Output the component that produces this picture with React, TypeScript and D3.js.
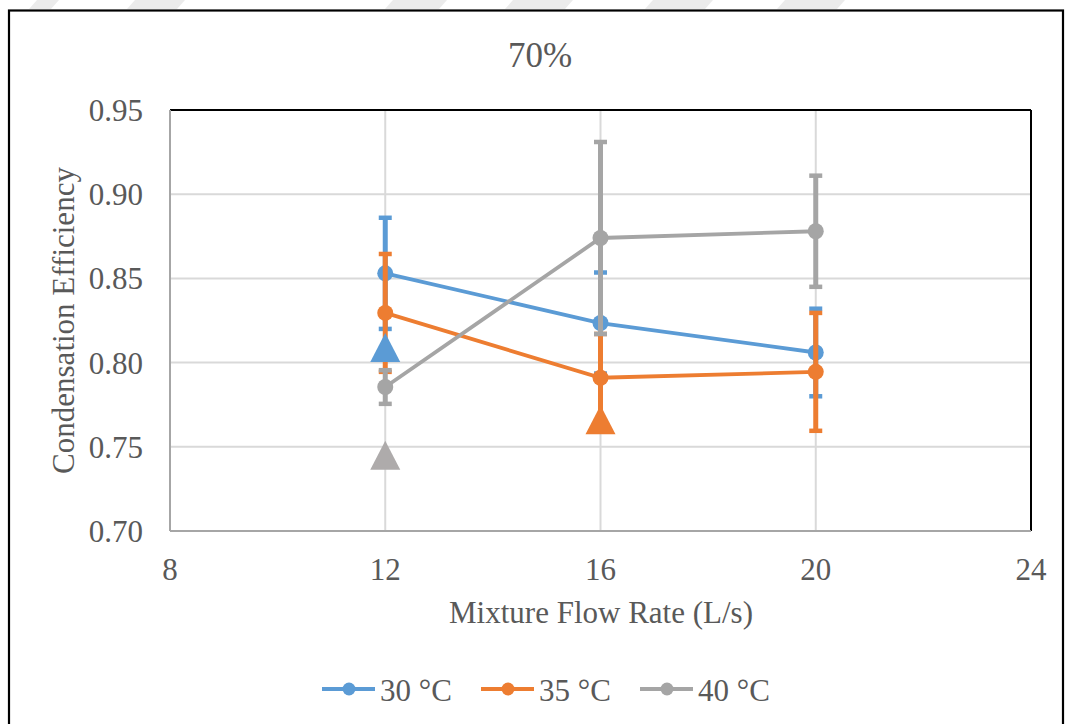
import React from "react";
import * as d3 from "d3";

// Mixture flow rate (L/s) for each measured point
const flowRates = [12, 16, 20];

// Condensation efficiency per inlet temperature, with symmetric error
const eff30 = [0.853, 0.8235, 0.806];
const err30 = [0.033, 0.030, 0.026];
const eff35 = [0.8295, 0.791, 0.7945];
const err35 = [0.035, 0.026, 0.035];
const eff40 = [0.7855, 0.874, 0.878];
const err40 = [0.010, 0.057, 0.033];

// Single reference points drawn as triangles
const refFlow = [12, 16, 12];
const refEff = [0.809, 0.766, 0.745];
const refColors = ["#5B9BD5", "#ED7D31", "#AEABAB"];

const seriesNames = ["30 °C", "35 °C", "40 °C"];
const seriesColors = ["#5B9BD5", "#ED7D31", "#A5A5A5"];

const xTicks = [8, 12, 16, 20, 24];
const yTicks = [0.7, 0.75, 0.8, 0.85, 0.9, 0.95];

// faint diagonal bands along the top edge of the page
const bandStarts = [37, 135, 393, 513, 653, 785];
const bandWidths = [22, 50, 54, 60, 60, 60];

const W = 1072;
const H = 724;
const plot = { left: 170, right: 1031, top: 110, bottom: 531 };
const FONT = "'Liberation Serif', 'Times New Roman', serif";
const TEXT = "#595959";

export default function App() {
  const x = d3.scaleLinear().domain([8, 24]).range([plot.left, plot.right]);
  const y = d3.scaleLinear().domain([0.7, 0.95]).range([plot.bottom, plot.top]);

  const series = [
    { vals: eff30, errs: err30 },
    { vals: eff35, errs: err35 },
    { vals: eff40, errs: err40 },
  ];

  const line = d3
    .line<number>()
    .x((_, i) => x(flowRates[i]))
    .y((d) => y(d));

  const triPath = (cx: number, cy: number) => {
    const p = d3.path();
    const w = 30;
    const h = 29;
    p.moveTo(cx, cy - h / 2);
    p.lineTo(cx + w / 2, cy + h / 2);
    p.lineTo(cx - w / 2, cy + h / 2);
    p.closePath();
    return p.toString();
  };

  const legendX = [322, 481, 640];
  const legendY = 689;

  return (
    <svg
      width={W}
      height={H}
      style={{ position: "absolute", left: 0, top: 0, background: "#fff" }}
      fontFamily={FONT}
    >
      <rect x={0} y={0} width={W} height={H} fill="#fff" />
      {bandStarts.map((s, i) => (
        <polygon
          key={`band${i}`}
          points={`${s},0 ${s + bandWidths[i]},0 ${s + bandWidths[i] - 8},9 ${s - 8},9`}
          fill="#ebebeb"
        />
      ))}
      {/* outer chart frame */}
      <rect x={9} y={10.5} width={1054} height={740} fill="#fff" stroke="#000" strokeWidth={2.2} />

      {/* title */}
      <text x={540} y={67} textAnchor="middle" fontSize={35} fill={TEXT}>
        70%
      </text>

      {/* gridlines */}
      {yTicks.slice(1, -1).map((t) => (
        <line key={`gy${t}`} x1={plot.left} x2={plot.right} y1={y(t)} y2={y(t)} stroke="#d9d9d9" strokeWidth={2} />
      ))}
      {xTicks.slice(1, -1).map((t) => (
        <line key={`gx${t}`} x1={x(t)} x2={x(t)} y1={plot.top} y2={plot.bottom} stroke="#d9d9d9" strokeWidth={2} />
      ))}

      {/* plot frame: black top/right, gray axes */}
      <line x1={plot.left} x2={plot.right} y1={plot.top} y2={plot.top} stroke="#000" strokeWidth={2} />
      <line x1={plot.right} x2={plot.right} y1={plot.top} y2={plot.bottom} stroke="#000" strokeWidth={2} />
      <line x1={plot.left} x2={plot.left} y1={plot.top} y2={plot.bottom} stroke="#a6a6a6" strokeWidth={2} />
      <line x1={plot.left} x2={plot.right} y1={plot.bottom} y2={plot.bottom} stroke="#a6a6a6" strokeWidth={2} />

      {/* tick labels */}
      {yTicks.map((t) => (
        <text key={`yt${t}`} x={143} y={y(t) + 11} textAnchor="end" fontSize={31} fill={TEXT}>
          {d3.format(".2f")(t)}
        </text>
      ))}
      {xTicks.map((t) => (
        <text key={`xt${t}`} x={x(t)} y={580} textAnchor="middle" fontSize={31} fill={TEXT}>
          {t}
        </text>
      ))}

      {/* axis titles */}
      <text x={601} y={623} textAnchor="middle" fontSize={31} fill={TEXT}>
        Mixture Flow Rate (L/s)
      </text>
      <text
        transform={`translate(74, ${(plot.top + plot.bottom) / 2}) rotate(-90)`}
        textAnchor="middle"
        fontSize={31}
        fill={TEXT}
      >
        Condensation Efficiency
      </text>

      {/* series: error bars, lines, markers */}
      {series.map((s, si) => (
        <g key={`s${si}`}>
          {s.vals.map((v, i) => {
            const cx = x(flowRates[i]);
            const y1 = y(v + s.errs[i]);
            const y2 = y(v - s.errs[i]);
            return (
              <g key={`e${i}`} stroke={seriesColors[si]}>
                <line x1={cx} x2={cx} y1={y1} y2={y2} strokeWidth={5} />
                <line x1={cx - 6.5} x2={cx + 6.5} y1={y1} y2={y1} strokeWidth={4.5} />
                <line x1={cx - 6.5} x2={cx + 6.5} y1={y2} y2={y2} strokeWidth={4.5} />
              </g>
            );
          })}
          <path d={line(s.vals) || ""} fill="none" stroke={seriesColors[si]} strokeWidth={3.8} />
          {s.vals.map((v, i) => (
            <circle key={`m${i}`} cx={x(flowRates[i])} cy={y(v)} r={8} fill={seriesColors[si]} />
          ))}
        </g>
      ))}

      {/* reference triangles */}
      {refEff.map((v, i) => (
        <path key={`t${i}`} d={triPath(x(refFlow[i]), y(v))} fill={refColors[i]} />
      ))}

      {/* legend */}
      {seriesNames.map((n, i) => (
        <g key={`l${i}`}>
          <line x1={legendX[i]} x2={legendX[i] + 53} y1={legendY} y2={legendY} stroke={seriesColors[i]} strokeWidth={3.8} />
          <circle cx={legendX[i] + 27} cy={legendY} r={6.5} fill={seriesColors[i]} />
          <text x={legendX[i] + 58} y={701} fontSize={31} fill={TEXT}>
            {n}
          </text>
        </g>
      ))}
    </svg>
  );
}
